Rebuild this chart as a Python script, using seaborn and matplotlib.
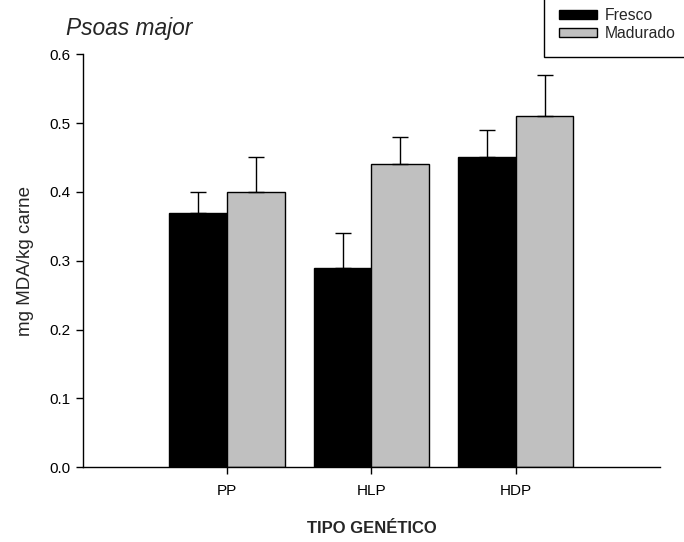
import pandas as pd
import seaborn as sns
import matplotlib.pyplot as plt

# valores
tipos = ["PP", "HLP", "HDP"]
fresco = [0.37, 0.29, 0.45]
madurado = [0.40, 0.44, 0.51]
erro_fresco = [0.03, 0.05, 0.04]
erro_madurado = [0.05, 0.04, 0.06]
grupos = ["Fresco", "Madurado"]

sns.set_style("ticks")
plt.rcParams["font.family"] = ["Liberation Sans", "DejaVu Sans"]

df = pd.DataFrame({
    "tipo": tipos * 2,
    "estado": [grupos[0]] * 3 + [grupos[1]] * 3,
    "valor": fresco + madurado,
    "erro": erro_fresco + erro_madurado,
})

fig = plt.figure(figsize=(6.84, 5.42), dpi=100)
ax = fig.add_axes([0.121, 0.138, 0.844, 0.762])

sns.barplot(data=df, x="tipo", y="valor", hue="estado", order=tipos,
            hue_order=grupos, palette=["black", "#c0c0c0"], width=0.8,
            edgecolor="black", linewidth=1, errorbar=None, ax=ax)

# barras de erro só para cima
for cont, g in zip(ax.containers, grupos):
    sub = df[df["estado"] == g].set_index("tipo").loc[tipos]
    xs = [p.get_x() + p.get_width() / 2 for p in cont.patches]
    ax.errorbar(xs, sub["valor"], yerr=[[0] * 3, sub["erro"]], fmt="none",
                ecolor="black", elinewidth=1, capsize=5.5, capthick=1)

ax.set_xlim(-1, 3)
ax.set_ylim(0, 0.6)
ax.set_yticks([0, 0.1, 0.2, 0.3, 0.4, 0.5, 0.6])
ax.set_yticklabels([f"{v:.1f}" for v in ax.get_yticks()])
ax.tick_params(axis="both", direction="out", length=5, width=1,
               labelsize=11, colors="black")
ax.tick_params(axis="x", pad=7)
ax.tick_params(axis="y", pad=4)
sns.despine(ax=ax)
for s in ["left", "bottom"]:
    ax.spines[s].set_linewidth(1)
    ax.spines[s].set_color("black")

ax.set_xlabel("TIPO GENÉTICO", fontsize=12, fontweight="bold", labelpad=17)
ax.set_ylabel("mg MDA/kg carne", fontsize=13.5, labelpad=11)

fig.text(0.097, 0.936, "Psoas major", fontsize=16.4, style="italic",
         va="baseline", ha="left")

h, l = ax.get_legend_handles_labels()
if ax.legend_:
    ax.legend_.remove()
leg = fig.legend(h, l, loc="lower left", bbox_to_anchor=(0.795, 0.895),
                 bbox_transform=fig.transFigure, fontsize=11.3, frameon=True,
                 fancybox=False, edgecolor="black", framealpha=1,
                 handlelength=2.4, handleheight=0.5, handletextpad=0.5,
                 borderpad=1.0, labelspacing=0.2, borderaxespad=0)
leg.get_frame().set_linewidth(1)

fig.savefig("out.png", dpi=100)
